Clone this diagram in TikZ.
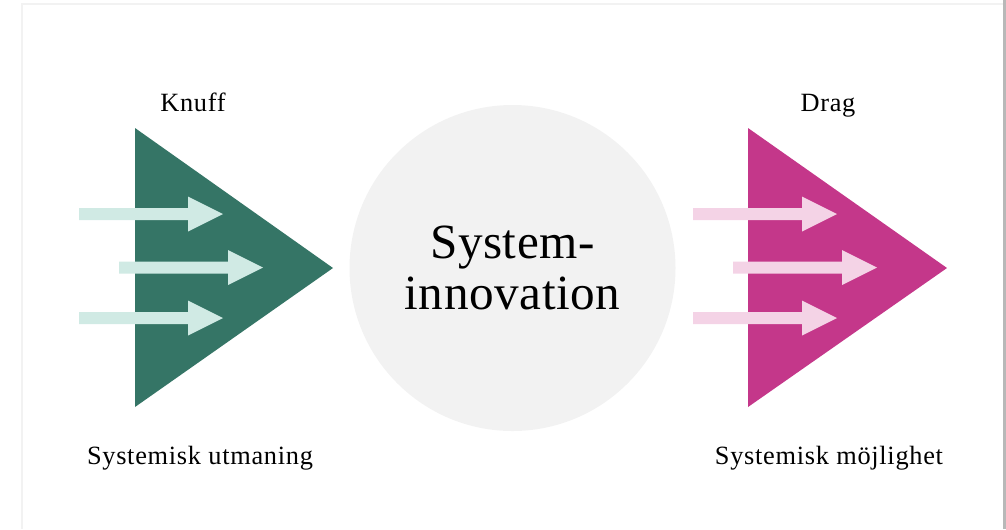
\documentclass[tikz,border=0pt]{standalone}
\usepackage{fontspec}
\setmainfont{Liberation Serif}
\usetikzlibrary{shapes,positioning}
\definecolor{green}{HTML}{357566}
\definecolor{lightgreen}{HTML}{D0EAE4}
\definecolor{magenta}{HTML}{C4378A}
\definecolor{lightpink}{HTML}{F4D3E6}
\definecolor{core}{HTML}{F2F2F2}
% block arrow: start x, middle y, colour
\newcommand{\Pil}[3]{\fill[#3] (#1,#2-6) -- ++(109,0) -- ++(0,-11.5) -- ++(35,17.5) -- ++(-35,17.5) -- ++(0,-11.5) -- (#1,#2+6) -- cycle;}

\begin{document}
\begin{tikzpicture}[x=0.02cm,y=-0.02cm,% one unit is one pixel of the reference
			every node/.style={
				align=center,	% so that "\\" breaks the line
				font=\fontsize{15}{17}\selectfont\addfontfeatures{LetterSpace=2.7}
			},
			label/.style={inner sep=0pt,anchor=base}
		]
		\useasboundingbox (0,0) rectangle (1006,529);
		% faint frame of the page
		\draw[black!5,line width=0.6pt] (22,529) -- (22,4) -- (1003,4);
		\fill[black!28] (1003,0) rectangle (1006,529);
		% push and pull
		\fill[green] (135,128) -- (333,268) -- (135,407) -- cycle;
		\fill[magenta] (748,128) -- (947,268) -- (748,407) -- cycle;
		\foreach \x/\y in {79/214,119/267.5,79/318}{
			\Pil{\x}{\y}{lightgreen}
			\Pil{\x+614}{\y}{lightpink}
		}
		\node[circle,fill=core,minimum size=326*0.02cm,inner sep=0pt,
			font=\fontsize{28}{29.5}\selectfont\addfontfeatures{LetterSpace=1.2}](Core) at (512.5,268){System-\\innovation};
		\node[label](Push) at (193,111){Knuff};
		\node[label](Pull) at (828,111){Drag};
		\node[label](Challenge) at (200,464){Systemisk utmaning};
		\node[label](Chance) at (829,464){Systemisk möjlighet};
	\end{tikzpicture}
\end{document}
